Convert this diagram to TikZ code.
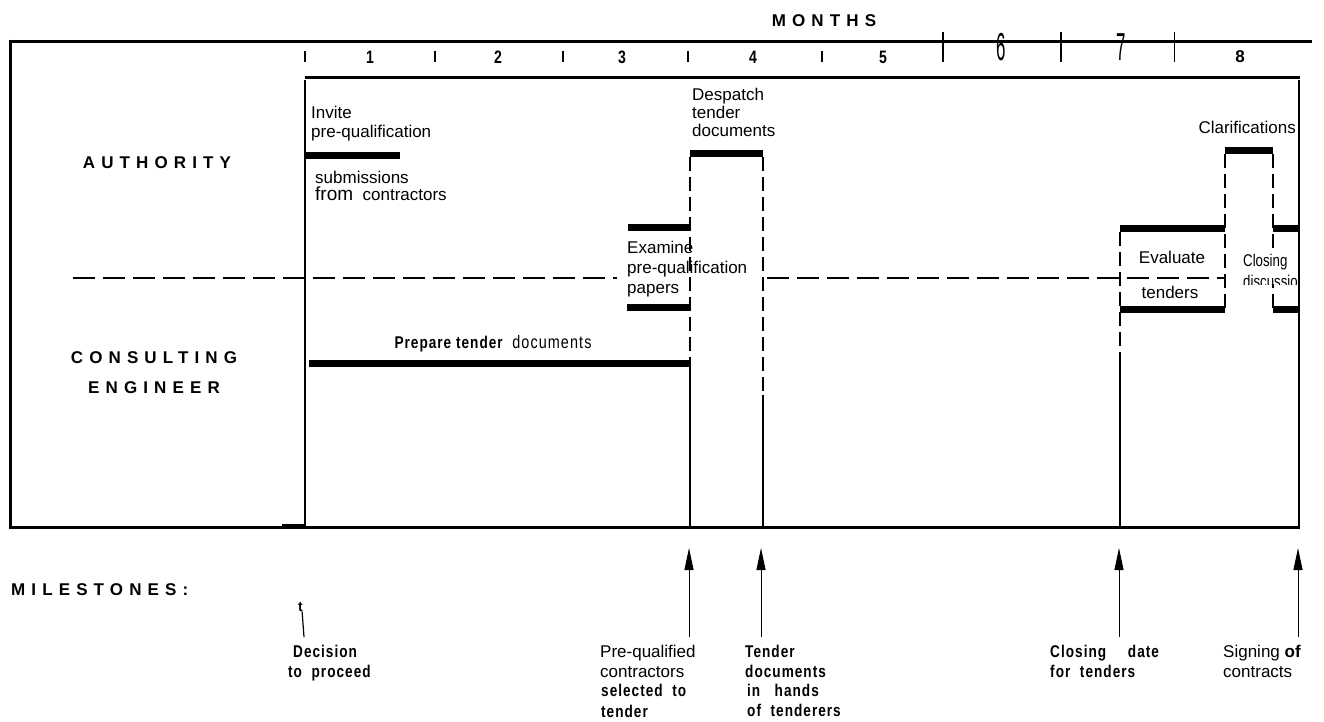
\documentclass[tikz,border=0pt]{standalone}
\usepackage{fontspec}
\setmainfont{Liberation Sans}
\newfontfamily\capsfont{Liberation Sans}[LetterSpace=36]
\newfontfamily\msfont{Liberation Sans}[LetterSpace=6, FakeStretch=0.8]
\newfontfamily\narrowfont{Liberation Sans}[FakeStretch=0.78]
\usetikzlibrary{arrows.meta}

\begin{document}
\begin{tikzpicture}[x=1pt,y=-1pt,
  frame/.style={line width=3pt},
  rule/.style={line width=2pt},
  bar/.style={line width=7pt},
  dashv/.style={line width=1.3pt, dash pattern=on 14pt off 6pt},
  dashh/.style={line width=1.3pt, dash pattern=on 22pt off 8pt},
  lab/.style={font=\fontsize{17}{20}\selectfont, inner sep=0pt, anchor=base west},
  hdr/.style={font=\capsfont\bfseries\fontsize{17}{20}\selectfont, inner sep=0pt},
  ms/.style={font=\msfont\bfseries\fontsize{17}{20}\selectfont, inner sep=0pt, anchor=base west},
  msreg/.style={font=\fontsize{17}{20}\selectfont, inner sep=0pt, anchor=base west},
  num/.style={font=\narrowfont\bfseries\fontsize{18}{18}\selectfont, inner sep=0pt},
  smalltick/.style={line width=1.2pt},
  tallitck/.style={line width=1.5pt},
  arr/.style={line width=1pt, -{Triangle[length=22pt,width=9pt]}},
]
\useasboundingbox (0,0) rectangle (1324,721);
\fill[white] (0,0) rectangle (1324,721);

% ---- outer frame and month strip ----
\draw[frame] (10,41) -- (1312,41);
\draw[frame] (10,39.5) -- (10,528.5);
\draw[frame] (8.5,527) -- (1300,527);
\draw[frame] (305,77) -- (1300,77);

\node[hdr] (months) at (824,21) {MONTHS};

% month ticks
\foreach \x in {305,435,563,688,822}
  \draw[smalltick] (\x,51) -- (\x,62);
\draw[tallitck] (943,32) -- (943,62);
\draw[tallitck] (1061,32) -- (1061,62);
\draw[line width=0.8pt] (1174,32) -- (1174,62);

% month numbers
\foreach \x/\n in {370/1,498/2,622/3,753/4,883/5}
  \node[num] (m\n) at (\x,57) {\n};
\node[inner sep=0pt] (m6) at (1001,47) {\scalebox{1.3}[3.0]{\fontsize{13}{13}\selectfont 6}};
\node[inner sep=0pt] (m7) at (1121,47) {\scalebox{1.3}[3.0]{\fontsize{13}{13}\selectfont 7}};
\node[num, font=\bfseries\fontsize{17}{17}\selectfont] (m8) at (1240,57) {8};

% ---- lane labels ----
\node[hdr] (authority) at (157,163) {AUTHORITY};
\node[hdr] (consult) at (154,358) {CONSULTING};
\node[hdr] (engineer) at (154,388) {ENGINEER};
\node[hdr, anchor=west] (milestones) at (11,590) {MILESTONES:};

% ---- lane divider ----
\draw[dashh] (73,278) -- (617,278);
\draw[dashh] (767,278) -- (1225,278);

% ---- start line ----
\draw[rule] (305,80) -- (305,527);
\draw[rule] (282,525) -- (305,525);

% ---- pre-qualification ----
\draw[bar] (305,155) -- (400,155);
\node[lab] (invite) at (311,118) {Invite};
\node[lab] (prequal) at (311,137) {pre-qualification};
\node[lab] (subm) at (315,183) {submissions};
\node[lab] (fromc) at (315,200) {{\fontsize{19}{20}\selectfont from}\ \ contractors};

% ---- tender documents ----
\draw[bar] (309,363) -- (690,363);
\node[inner sep=0pt, anchor=base] (prep) at (493,348)
  {\msfont\bfseries\fontsize{17}{20}\selectfont Prepare tender\ \ \mdseries\fontsize{18}{20}\selectfont documents};

\draw[bar] (628,227) -- (690,227);
\draw[bar] (627,307) -- (690,307);
\node[lab] (exam1) at (627,253) {Examine};
\node[lab] (exam2) at (627,273) {pre-qualification};
\node[lab] (exam3) at (627,293) {papers};

\draw[bar] (690,153) -- (763,153);
\node[lab] (desp1) at (692,100) {Despatch};
\node[lab] (desp2) at (692,118) {tender};
\node[lab] (desp3) at (692,136) {documents};

\draw[dashv] (690,157) -- (690,363);
\draw[line width=2.5pt] (690,363) -- (690,527);
\draw[dashv] (763,157) -- (763,395);
\draw[rule] (763,395) -- (763,527);

% ---- tender evaluation ----
\draw[bar] (1120,228) -- (1225,228);
\draw[bar] (1120,309) -- (1225,309);
\node[lab, anchor=base] (eval1) at (1172,263) {Evaluate};
\node[lab, anchor=base] (eval2) at (1170,298) {tenders};
\draw[dashv] (1120,232) -- (1120,363);
\draw[line width=2.5pt] (1120,363) -- (1120,527);

\draw[bar] (1225,150) -- (1273,150);
\node[lab, anchor=base east] (clar) at (1296,133) {Clarifications};
\draw[dashv] (1225,154) -- (1225,309);
\draw[dashv] (1273,154) -- (1273,309);

\draw[bar] (1273,228) -- (1299,228);
\draw[bar] (1273,309) -- (1299,309);
\fill[white] (1240,248) rectangle (1298,284);
\begin{scope}
  \clip (1238,240) rectangle (1298,284);
  \node[lab, font=\narrowfont\fontsize{17}{20}\selectfont] (close1) at (1243,266) {Closing};
  \node[lab, font=\narrowfont\fontsize{17}{20}\selectfont] (close2) at (1243,287) {discussion};
\end{scope}

% ---- end line ----
\draw[rule] (1299,80) -- (1299,528);

% ---- milestones ----
\node[ms, font=\bfseries\fontsize{14}{14}\selectfont] (tmark) at (298,611) {t};
\coordinate (tfoot) at (304,637);
\draw[line width=1.2pt] (tmark.south east) ++(-1,0) -- (tfoot);
\node[ms] (dec1) at (293,657) {Decision};
\node[ms] (dec2) at (288,677) {to\ \ proceed};

\coordinate (a1t) at (689,637); \coordinate (a1h) at (689,548);
\coordinate (a2t) at (761,637); \coordinate (a2h) at (761,548);
\coordinate (a3t) at (1119,637); \coordinate (a3h) at (1119,548);
\coordinate (a4t) at (1298,637); \coordinate (a4h) at (1298,548);
\draw[arr] (a1t) -- (a1h);
\draw[arr] (a2t) -- (a2h);
\draw[arr] (a3t) -- (a3h);
\draw[arr] (a4t) -- (a4h);

\node[msreg] (pq1) at (600,657) {Pre-qualified};
\node[msreg] (pq2) at (600,677) {contractors};
\node[ms] (pq3) at (601,696) {selected\ \ to};
\node[ms] (pq4) at (601,717) {tender};

\node[ms] (td1) at (745,657) {Tender};
\node[ms] (td2) at (745,677) {documents};
\node[ms] (td3) at (747,696) {in\ \ \ hands};
\node[ms] (td4) at (747,716) {of\ \ tenderers};

\node[ms] (cd1) at (1050,657) {Closing\quad\ date};
\node[ms] (cd2) at (1050,677) {for\ \ tenders};

\node[msreg] (sg1) at (1223,657) {Signing \textbf{of}};
\node[msreg] (sg2) at (1223,677) {contracts};
\end{tikzpicture}
\end{document}
